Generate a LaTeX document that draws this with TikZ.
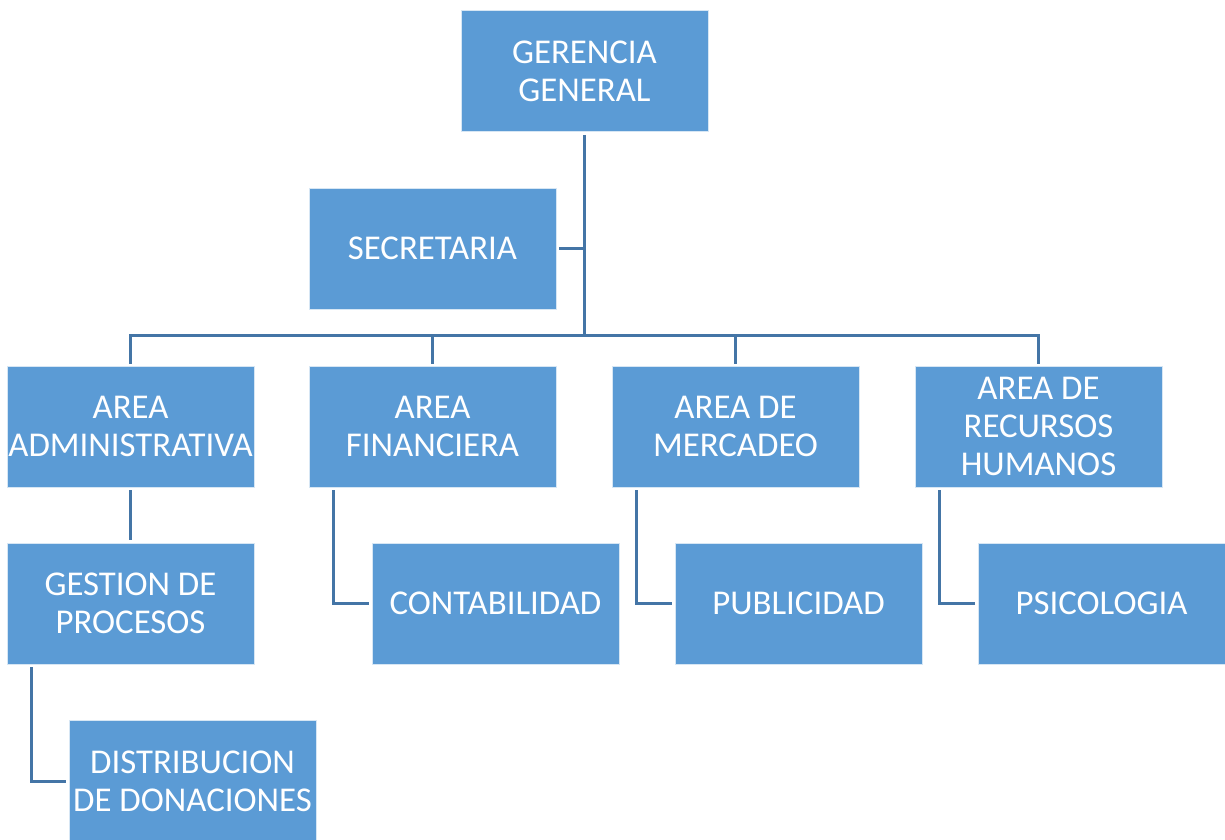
\documentclass[tikz,border=0pt]{standalone}
\usepackage{fontspec}
\setmainfont{Carlito}
\definecolor{boxblue}{RGB}{91,155,213}
\definecolor{lineblue}{RGB}{68,117,166}
\begin{document}
\begin{tikzpicture}[x=1pt,y=-1pt,
  box/.style={fill=boxblue, draw=white!75!boxblue, line width=0.6pt,
    minimum width=247pt, minimum height=121pt, inner sep=0pt,
    text width=245pt, align=flush center, text=white,
    font=\fontsize{34.8}{38}\selectfont},
  link/.style={draw=lineblue, line width=3pt, line join=miter}]
\useasboundingbox (0,0) rectangle (1225,839);
\clip (0,0) rectangle (1225,839);
\node[box] (gg)  at (584.5,71)    {GERENCIA\\GENERAL};
\node[box] (sec) at (432.5,248.5) {SECRETARIA};
\node[box] (adm) at (130.5,426.5) {AREA\\ADMINISTRATIVA};
\node[box] (fin) at (432.5,426.5) {AREA\\FINANCIERA};
\node[box] (mer) at (735.5,426.5) {AREA DE\\MERCADEO};
\node[box] (rh)  at (1038.5,426.5) {AREA DE\\RECURSOS\\HUMANOS};
\node[box] (ges) at (130.5,603.5) {GESTION DE\\PROCESOS};
\node[box] (con) at (495.5,603.5) {CONTABILIDAD};
\node[box] (pub) at (798.5,603.5) {PUBLICIDAD};
\node[box] (psi) at (1101.5,603.5) {PSICOLOGIA};
\node[box] (dis) at (192.5,781)   {DISTRIBUCION\\DE DONACIONES};
\coordinate (hub) at (584.5,335);
\draw[link, shorten <=3pt] (gg.south) -- (hub);
\draw[link, shorten <=3pt] (sec.east) -- (sec.east -| hub);
\draw[link] ([xshift=-1.5pt]adm.north |- hub) -- ([xshift=1.5pt]rh.north |- hub);
\draw[link, shorten >=2pt] (adm.north |- hub) -- (adm.north);
\draw[link, shorten >=2pt] (fin.north |- hub) -- (fin.north);
\draw[link, shorten >=2pt] (mer.north |- hub) -- (mer.north);
\draw[link, shorten >=2pt] (rh.north |- hub) -- (rh.north);
\draw[link, shorten <=3pt, shorten >=3pt] (adm.south) -- (ges.north);
\draw[link, shorten <=3pt, shorten >=3pt] ([xshift=-99.5pt]fin.south) |- (con.west);
\draw[link, shorten <=3pt, shorten >=3pt] ([xshift=-99.5pt]mer.south) |- (pub.west);
\draw[link, shorten <=3pt, shorten >=3pt] ([xshift=-99.5pt]rh.south) |- (psi.west);
\draw[link, shorten <=3pt, shorten >=3pt] ([xshift=-99.5pt]ges.south) |- (dis.west);
\end{tikzpicture}
\end{document}
